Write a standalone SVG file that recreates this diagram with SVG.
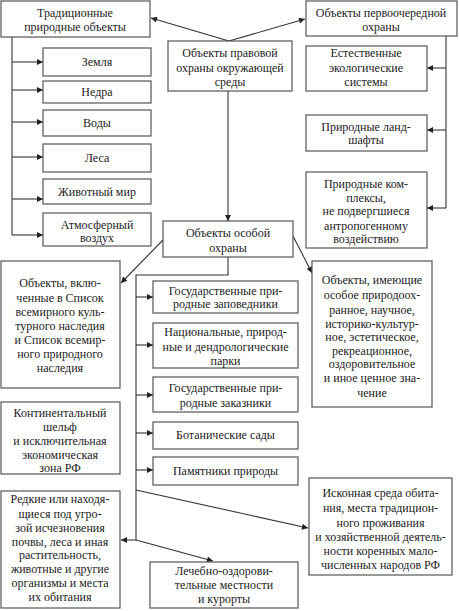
<svg xmlns="http://www.w3.org/2000/svg" width="459" height="611" viewBox="0 0 459 611">
<defs>
<marker id="ar" viewBox="0 0 10 10" refX="10" refY="5" markerWidth="8" markerHeight="6" markerUnits="userSpaceOnUse" orient="auto">
<path d="M0,0 L10,5 L0,10 Z" fill="#222"/>
</marker>
</defs>
<style>
rect{fill:#fff;stroke:#555;stroke-width:1.2}
text{font-family:'Liberation Serif','DejaVu Serif','Times New Roman',serif;font-size:12px;fill:#222;text-anchor:middle}
.c line,.c polyline{stroke:#333;stroke-width:1.1;fill:none}
.a{marker-end:url(#ar)}
</style>
<rect x="0" y="0" width="459" height="611" style="fill:#fff;stroke:none"/>
<g class="c" id="connectors">
<line class="a" x1="229" y1="41" x2="151" y2="18"/>
<line class="a" x1="229" y1="41" x2="305" y2="19"/>
<line x1="12" y1="37" x2="12" y2="235"/>
<line class="a" x1="12" y1="62" x2="43" y2="62"/>
<line class="a" x1="12" y1="90" x2="43" y2="90"/>
<line class="a" x1="12" y1="122" x2="43" y2="122"/>
<line class="a" x1="12" y1="157" x2="43" y2="157"/>
<line class="a" x1="12" y1="199" x2="43" y2="199"/>
<line class="a" x1="12" y1="235" x2="43" y2="235"/>
<line x1="446" y1="36" x2="446" y2="208"/>
<line class="a" x1="446" y1="68" x2="427" y2="68"/>
<line class="a" x1="446" y1="130" x2="427" y2="130"/>
<line class="a" x1="446" y1="208" x2="427" y2="208"/>
<line class="a" x1="228" y1="91" x2="228" y2="221"/>
<line class="a" x1="163" y1="240" x2="121" y2="283"/>
<line class="a" x1="293" y1="236" x2="312" y2="273"/>
<polyline points="228,257 228,275 136,275 136,540"/>
<line class="a" x1="136" y1="297" x2="153" y2="297"/>
<line class="a" x1="136" y1="345" x2="153" y2="345"/>
<line class="a" x1="136" y1="395" x2="153" y2="395"/>
<line class="a" x1="136" y1="433" x2="153" y2="433"/>
<line class="a" x1="136" y1="470" x2="153" y2="470"/>
<line class="a" x1="136" y1="490" x2="308" y2="528"/>
<line class="a" x1="136" y1="540" x2="121" y2="540"/>
<line class="a" x1="136" y1="540" x2="213" y2="561"/>
</g>
<g font-family="Liberation Serif, DejaVu Serif, serif">
<g id="n-trad"><rect x="1" y="1" width="149" height="36"/><text x="75" y="17">Традиционные</text><text x="75" y="31">природные объекты</text></g>
<g id="n-center"><rect x="168" y="41" width="124" height="50"/><text x="230" y="57">Объекты правовой</text><text x="230" y="72">охраны окружающей</text><text x="230" y="86">среды</text></g>
<g id="n-first"><rect x="306" y="1" width="151" height="35"/><text x="381" y="17">Объекты первоочередной</text><text x="381" y="31">охраны</text></g>
<g id="n-zemlya"><rect x="43" y="48" width="108" height="28"/><text x="97" y="66">Земля</text></g>
<g id="n-nedra"><rect x="43" y="81" width="108" height="22"/><text x="97" y="96">Недра</text></g>
<g id="n-vody"><rect x="43" y="110" width="108" height="26"/><text x="97" y="127">Воды</text></g>
<g id="n-lesa"><rect x="43" y="144" width="108" height="28"/><text x="97" y="162">Леса</text></g>
<g id="n-zhiv"><rect x="43" y="179" width="108" height="25"/><text x="97" y="196">Животный мир</text></g>
<g id="n-atm"><rect x="43" y="213" width="108" height="33"/><text x="97" y="229">Атмосферный</text><text x="97" y="242">воздух</text></g>
<g id="n-eco"><rect x="306" y="46" width="121" height="45"/><text x="366" y="57">Естественные</text><text x="366" y="72">экологические</text><text x="366" y="86">системы</text></g>
<g id="n-land"><rect x="306" y="115" width="121" height="36"/><text x="366" y="131">Природные ланд-</text><text x="366" y="144">шафты</text></g>
<g id="n-kompl"><rect x="306" y="172" width="121" height="76"/><text x="366" y="188">Природные ком-</text><text x="366" y="202">плексы,</text><text x="366" y="215">не подвергшиеся</text><text x="366" y="230">антропогенному</text><text x="366" y="243">воздействию</text></g>
<g id="n-osob"><rect x="163" y="221" width="130" height="36"/><text x="228" y="237">Объекты особой</text><text x="228" y="252">охраны</text></g>
<g id="n-unesco"><rect x="1" y="261" width="119" height="127"/><text x="60" y="287">Объекты, вклю-</text><text x="60" y="302">ченные в Список</text><text x="60" y="316">всемирного куль-</text><text x="60" y="330">турного наследия</text><text x="60" y="344">и Список всемир-</text><text x="60" y="358">ного природного</text><text x="60" y="372">наследия</text></g>
<g id="n-cenn"><rect x="312" y="261" width="120" height="146"/><text x="372" y="284">Объекты, имеющие</text><text x="372" y="299">особое природоох-</text><text x="372" y="314">ранное, научное,</text><text x="372" y="328">историко-культур-</text><text x="372" y="341">ное, эстетическое,</text><text x="372" y="355">рекреационное,</text><text x="372" y="368">оздоровительное</text><text x="372" y="382">и иное ценное зна-</text><text x="372" y="397">чение</text></g>
<g id="n-zapov"><rect x="153" y="281" width="145" height="32"/><text x="225.5" y="295">Государственные при-</text><text x="225.5" y="308">родные заповедники</text></g>
<g id="n-nac"><rect x="153" y="323" width="145" height="45"/><text x="225.5" y="336">Национальные, природ-</text><text x="225.5" y="351">ные и дендрологические</text><text x="225.5" y="365">парки</text></g>
<g id="n-zakaz"><rect x="153" y="377" width="145" height="35"/><text x="225.5" y="392">Государственные при-</text><text x="225.5" y="407">родные заказники</text></g>
<g id="n-bot"><rect x="153" y="422" width="145" height="27"/><text x="225.5" y="439">Ботанические сады</text></g>
<g id="n-pam"><rect x="153" y="457" width="145" height="28"/><text x="225.5" y="475">Памятники природы</text></g>
<g id="n-shelf"><rect x="1" y="402" width="119" height="72"/><text x="60" y="417">Континентальный</text><text x="60" y="431">шельф</text><text x="60" y="445">и исключительная</text><text x="60" y="459">экономическая</text><text x="60" y="472">зона РФ</text></g>
<g id="n-rare"><rect x="1" y="491" width="119" height="117"/><text x="60" y="503">Редкие или находя-</text><text x="60" y="518">щиеся под угро-</text><text x="60" y="532">зой исчезновения</text><text x="60" y="546">почвы, леса и иная</text><text x="60" y="559">растительность,</text><text x="60" y="573">животные и другие</text><text x="60" y="587">организмы и места</text><text x="60" y="601">их обитания</text></g>
<g id="n-lech"><rect x="150" y="562" width="148" height="46"/><text x="224" y="575">Лечебно-оздорови-</text><text x="224" y="589">тельные местности</text><text x="224" y="603">и курорты</text></g>
<g id="n-iskon"><rect x="309" y="478" width="143" height="97"/><text x="380.5" y="497">Исконная среда обита-</text><text x="380.5" y="512">ния, места традицион-</text><text x="380.5" y="527">ного проживания</text><text x="380.5" y="541">и хозяйственной деятель-</text><text x="380.5" y="555">ности коренных мало-</text><text x="380.5" y="569">численных народов РФ</text></g>
</g>
</svg>
